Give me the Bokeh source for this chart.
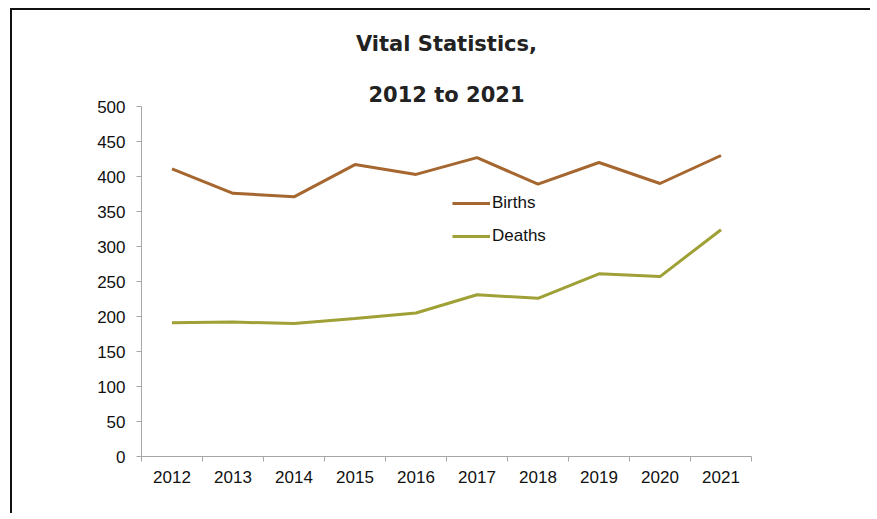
from bokeh.plotting import figure
from bokeh.models import FixedTicker, Legend, LegendItem, Range1d, Title
from bokeh.embed import file_html
from bokeh.resources import INLINE

years = ["2012", "2013", "2014", "2015", "2016", "2017", "2018", "2019", "2020", "2021"]
births = [411, 376, 371, 417, 403, 427, 389, 420, 390, 430]
deaths = [191, 192, 190, 197, 205, 231, 226, 261, 257, 324]
y_ticks = [0, 50, 100, 150, 200, 250, 300, 350, 400, 450, 500]
title_lines = ["Vital Statistics,", "2012 to 2021"]

xs = [i + 0.5 for i in range(len(years))]

p = figure(width=860, height=505, output_backend="svg", toolbar_location=None,
           x_range=Range1d(0, len(years)), y_range=Range1d(0, 500),
           min_border_left=129, min_border_right=121, min_border_top=96, min_border_bottom=59)
p.styles = {"border-left": "2px solid #111111", "border-top": "2px solid #111111",
            "margin-left": "10px", "margin-top": "8px"}
p.outline_line_color = None
p.xgrid.visible = False
p.ygrid.visible = False

def style_title(t, pad_bottom):
    t.align = "center"
    t.text_font = "DejaVu Sans"
    t.text_font_size = "21px"
    t.text_font_style = "bold"
    t.text_color = "#222222"
    t.standoff = 0
    t.padding = (0, 0, pad_bottom, 0)

p.title.text = title_lines[0]
style_title(p.title, 3)
t2 = Title(text=title_lines[1])
style_title(t2, 25)
p.add_layout(t2, "above")

axis_col = "#a6a6a6"
tick_font = "Liberation Sans"

xa = p.xaxis[0]
xa.ticker = FixedTicker(ticks=xs, minor_ticks=list(range(len(years) + 1)))
xa.major_label_overrides = {x: y for x, y in zip(xs, years)}
xa.major_tick_line_color = None
xa.major_tick_out = 0
xa.minor_tick_line_color = axis_col
xa.minor_tick_out = 5
xa.minor_tick_in = 0
xa.axis_line_color = axis_col
xa.major_label_text_font = tick_font
xa.major_label_text_font_size = "17px"
xa.major_label_text_color = "#111111"
xa.major_label_standoff = 9

ya = p.yaxis[0]
ya.ticker = FixedTicker(ticks=y_ticks)
ya.minor_tick_line_color = None
ya.major_tick_line_color = axis_col
ya.major_tick_out = 5
ya.major_tick_in = 0
ya.axis_line_color = axis_col
ya.major_label_text_font = tick_font
ya.major_label_text_font_size = "17px"
ya.major_label_text_color = "#111111"
ya.major_label_standoff = 11

r1 = p.line(xs, births, line_color="#a5672f", line_width=3)
r2 = p.line(xs, deaths, line_color="#9fa035", line_width=3)

legend = Legend(items=[LegendItem(label="Births", renderers=[r1]),
                       LegendItem(label="Deaths", renderers=[r2])],
                location=(311, 210), border_line_color=None, background_fill_alpha=0,
                label_text_font=tick_font, label_text_font_size="17px",
                label_text_color="#111111", glyph_width=38, spacing=13,
                label_standoff=2, padding=4)
p.add_layout(legend)

open("out.html", "w").write(file_html(p, INLINE))
